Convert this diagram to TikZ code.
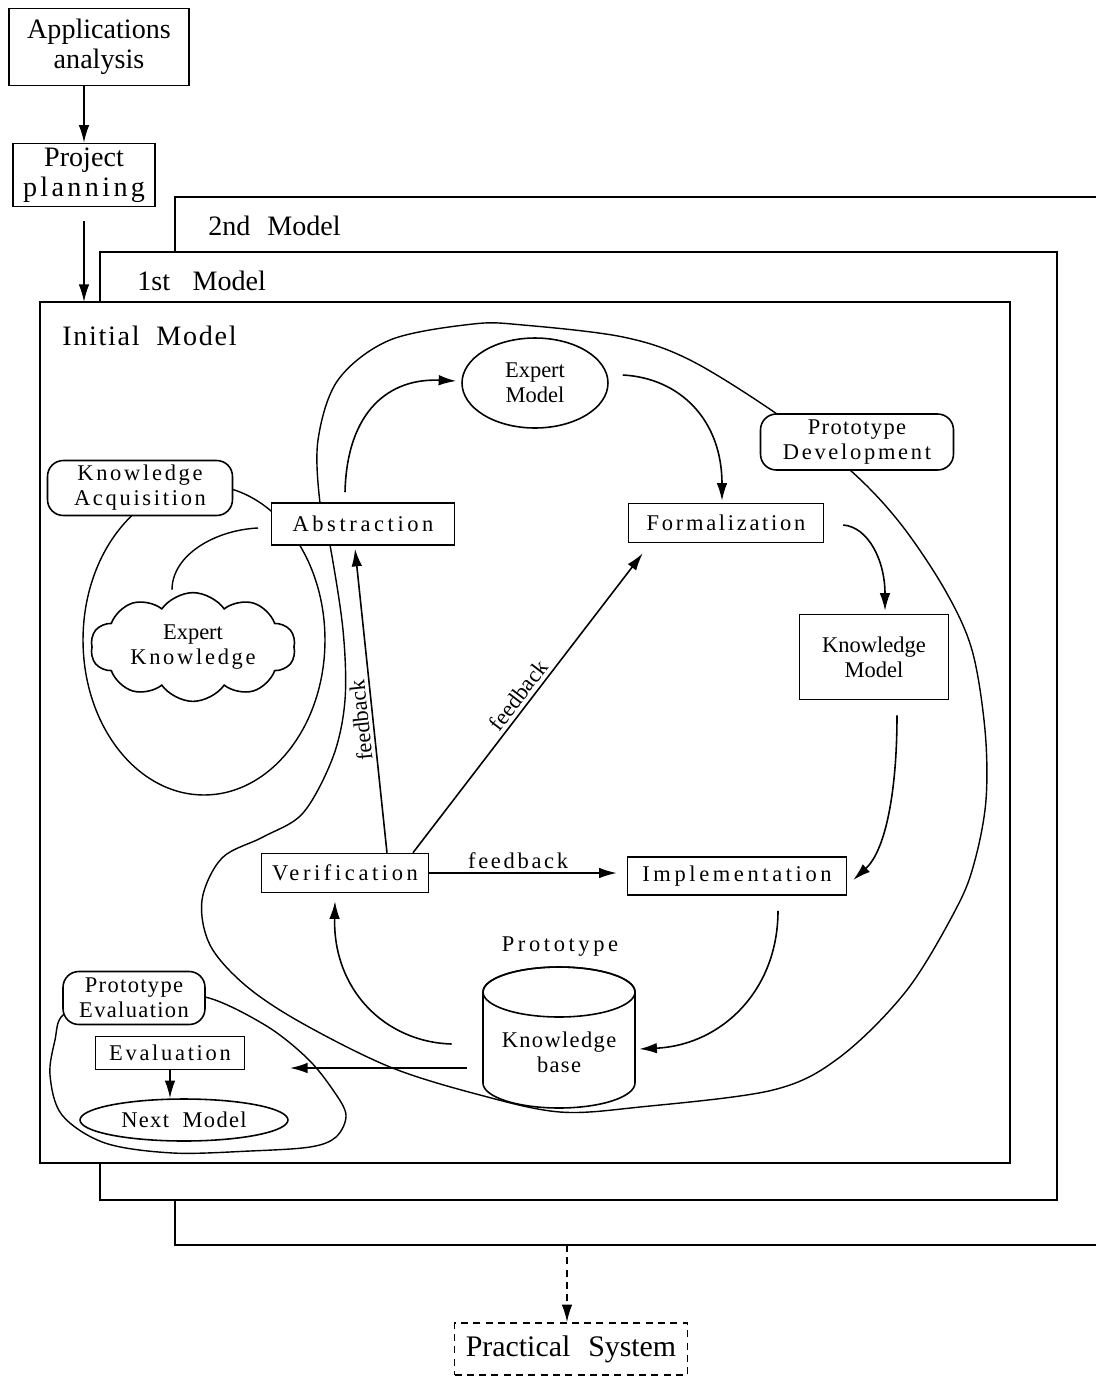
\documentclass[tikz,border=0pt]{standalone}
\usepackage{fontspec}
\setmainfont{Liberation Serif}
\newfontfamily\lsA[LetterSpace=6]{Liberation Serif}
\newfontfamily\lsB[LetterSpace=12]{Liberation Serif}
\newfontfamily\lsC[LetterSpace=16]{Liberation Serif}
\usetikzlibrary{arrows.meta,shapes.geometric,shapes.symbols,calc}
\newcommand\szA{\fontsize{12.8}{14.2}\selectfont}
\newcommand\szB{\fontsize{16}{17}\selectfont}
\begin{document}
\begin{tikzpicture}[x=0.02cm,y=-0.02cm,
  box/.style={draw,line width=0.9pt,fill=white,inner sep=0pt,align=center},
  rbox/.style={box,rounded corners=9pt},
  arr/.style={-{Latex[length=10pt,width=6pt]},line width=0.9pt},
  curve/.style={line width=0.8pt},
  frame/.style={line width=1.1pt},
  lbl/.style={inner sep=0pt,anchor=base west,font=\szB},
  fbl/.style={inner sep=1pt,font=\szA}]
\useasboundingbox (0,0) rectangle (1096,1377);
\fill[white] (0,0) rectangle (1096,1377);

% model frames
\draw[frame] (1096,197) -- (175,197) -- (175,1245) -- (1096,1245);
\draw[frame,fill=white] (100,252) rectangle (1057,1200);
\draw[frame,fill=white] (40,302) rectangle (1010,1163);
\node[lbl] (lab2) at (208,235) {2nd\hspace{0.6em}Model};
\node[lbl] (lab1) at (137,290) {1st\hspace{0.8em}Model};
\node[lbl,font=\lsA\szB] (lab0) at (62,345) {Initial\hspace{0.6em}Model};

% prototype development region
\draw[curve] plot[smooth cycle, tension=0.55] coordinates {
 (320,503) (318,440) (338,380) (390,340) (473,324) (523,325) (623,337)
 (690,360) (777,414) (850,470) (900,523) (945,590) (972,650) (985,730)
 (986,800) (975,860) (957,907) (907,990) (840,1057) (773,1090) (640,1107)
 (560,1112) (480,1095) (390,1067) (300,1022) (245,985) (210,945) (202,900)
 (222,858) (263,837) (303,813) (333,757) (345,700) (343,630) (330,545)};

% knowledge acquisition region
\draw[curve] (204,640) ellipse [x radius=2.42cm, y radius=3.1cm];

% prototype evaluation region
\draw[curve] plot[smooth cycle, tension=0.55] coordinates {
 (205,997) (265,1025) (307,1058) (333,1090) (346,1115) (336,1137) (310,1147)
 (250,1151) (173,1153) (105,1143) (62,1115) (50,1075) (55,1040) (63,1015)
 (100,1000) (150,1000)};

% knowledge base cylinder
\draw[line width=0.9pt,fill=white] (483,992) -- (483,1083)
  arc[start angle=180,end angle=360,x radius=1.52cm,y radius=0.5cm] -- (635,992)
  arc[start angle=0,end angle=180,x radius=1.52cm,y radius=0.5cm];
\draw[line width=0.9pt] (559,992) ellipse [x radius=1.52cm, y radius=0.5cm];
\node[inner sep=0pt,minimum width=3.04cm,minimum height=2.24cm,align=center,font=\lsA\szA] (kb) at (559,1052) {Knowledge\\base};

% nodes
\node[box,minimum width=3.6cm,minimum height=1.54cm,font=\szB] (app) at (99,47) {Applications\\analysis};
\node[box,minimum width=2.84cm,minimum height=1.26cm,font=\szB] (pp) at (84,175) {Project\\{\lsB planning}};
\node[rbox,minimum width=3.7cm,minimum height=1.1cm,font=\lsB\szA] (ka) at (140,488) {Knowledge\\Acquisition};
\node[cloud,draw,line width=0.9pt,fill=white,cloud puffs=10,cloud puff arc=110,aspect=2.1,
      minimum width=4.1cm,minimum height=1.9cm,inner sep=0pt,align=center,font=\szA] (ek) at (193,647) {Expert\\{\lsB Knowledge}};
\node[box,minimum width=3.66cm,minimum height=0.84cm,font=\lsC\szA] (abs) at (363,524) {Abstraction};
\node[box,ellipse,minimum width=2.92cm,minimum height=1.8cm,font=\szA] (em) at (535,383) {Expert\\Model};
\node[rbox,minimum width=3.86cm,minimum height=1.12cm,font=\szA] (pd) at (857,442) {{\lsA Prototype}\\{\lsB Development}};
\node[box,minimum width=3.9cm,minimum height=0.78cm,font=\lsB\szA] (form) at (726,523) {Formalization};
\node[box,minimum width=2.98cm,minimum height=1.7cm,font=\szA] (km) at (874,657) {Knowledge\\Model};
\node[box,minimum width=4.38cm,minimum height=0.76cm,font=\lsC\szA] (impl) at (737,876) {Implementation};
\node[box,minimum width=3.34cm,minimum height=0.78cm,font=\lsC\szA] (ver) at (345,873) {Verification};
\node[inner sep=0pt,font=\lsC\szA] (plab) at (560,947) {Prototype};
\node[rbox,minimum width=2.84cm,minimum height=1.06cm,font=\lsA\szA] (pe) at (134,998) {Prototype\\Evaluation};
\node[box,minimum width=2.98cm,minimum height=0.66cm,font=\lsB\szA] (ev) at (170,1053) {Evaluation};
\node[box,ellipse,minimum width=4.16cm,minimum height=0.84cm,font=\lsA\szA] (nm) at (184,1120) {Next\hspace{0.6em}Model};
\node[box,dash pattern=on 4pt off 3pt,minimum width=4.66cm,minimum height=1.04cm,font=\fontsize{17}{18}\selectfont] (ps) at (571,1349) {Practical\hspace{0.6em}System};

% connectors
\draw[arr] (pp.north |- app.south) -- (pp.north);
\coordinate (initTop) at (84,302);
\draw[arr,shorten <=0.28cm] (pp.south) -- (initTop);

\draw[arr] ($(abs.north)+(-18,-10)$) .. controls (347,410) and (390,378) .. ($(em.west)+(-5,-2)$);
\draw[arr] ($(em.east)+(14,-8)$) .. controls (680,378) and (722,420) .. ($(form.north)+(-4,-2)$);
\draw[arr] ($(form.east)+(19,2)$) .. controls (868,527) and (885,560) .. ($(km.north)+(11,-3)$);
\draw[arr] ($(km.south)+(23,15)$) .. controls (897,790) and (886,850) .. ($(impl.east)+(6,4)$);
\draw[arr] ($(impl.south)+(41,15)$) .. controls (778,990) and (722,1045) .. ($(kb.east)+(4,-3)$);
\draw[arr] ($(kb.west)+(-31,-8)$) .. controls (385,1042) and (333,990) .. ($(ver.south)+(-10,8)$);
\coordinate (evTip) at (290,1068);
\draw[arr] ($(kb.west)+(-16,16)$) -- (evTip);

\draw[arr,shorten >=0.2cm] (ver.east) -- (ver.east -| impl.west)
  node[fbl,font=\lsB\szA,pos=0.45,above=1pt] (fb1) {feedback};
\draw[arr] ($(ver.north)+(42,0)$) -- ($(abs.south)+(-8,3)$)
  node[fbl,pos=0.44,sloped,allow upside down,above=1pt] (fb2) {feedback};
\draw[arr] ($(ver.north)+(68,0)$) -- ($(form.south west)+(15,10)$)
  node[fbl,pos=0.5,sloped,above=1pt] (fb3) {feedback};

\draw[arr] (ev.south) -- (ev.south |- nm.north);

\coordinate (ekEnd) at (258,528);
\draw[curve] ($(ek.north)+(-21,-2)$) .. controls (172,555) and (215,530) .. (ekEnd);

\coordinate (secBot) at (567,1245);
\draw[arr,dash pattern=on 4pt off 3pt] (secBot) -- (ps.north -| secBot);
\end{tikzpicture}
\end{document}
